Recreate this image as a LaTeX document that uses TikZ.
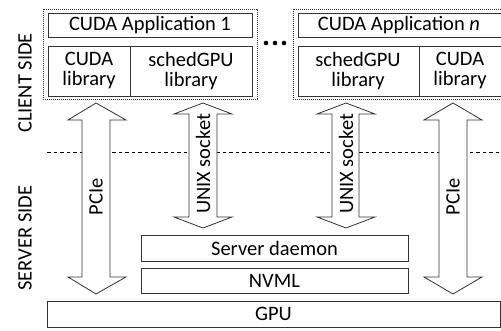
\documentclass[tikz,border=0pt]{standalone}
\usepackage{fontspec}
\setmainfont{Carlito}
\begin{document}
\begin{tikzpicture}[x=1pt,y=-1pt,
  box/.style={draw=black!80,line width=0.8pt,fill=white},
  lbl/.style={font=\fontsize{20.5}{20}\selectfont,inner sep=0pt,align=center},
  arr/.style={draw=black!80,line width=0.8pt,fill=white,line join=miter},
  grp/.style={draw=black!80,line width=0.8pt,dash pattern=on 0.8pt off 1.2pt}]
\useasboundingbox (0,0) rectangle (501,331);
% group boxes
\draw[grp] (43,9) rectangle (257,99);
\draw[grp] (293,9) rectangle (503,99);
% app 1
\draw[box] (48,13) rectangle (252,37);
\node[lbl] (app1) at (150,25) {CUDA Application 1};
\draw[box] (48,46) rectangle (130,96);
\draw[box] (130,46) rectangle (252,96);
\node[lbl] (cl1) at (89,71) {CUDA\\library};
\node[lbl] (sl1) at (191,71) {schedGPU\\library};
% dots
\foreach \i in {266,275,284} \fill[black] (\i,43) circle (2.3pt);
\coordinate (dots) at (275,43);
% app n
\draw[box] (298,13) rectangle (503,37);
\node[lbl] (appn) at (399,25) {CUDA Application \textit{n}};
\draw[box] (298,46) rectangle (419,96);
\draw[box] (419,46) rectangle (503,96);
\node[lbl] (sln) at (358,71) {schedGPU\\library};
\node[lbl] (cln) at (460,71) {CUDA\\library};
% dashed separator
\draw[line width=0.8pt,dash pattern=on 3.5pt off 3pt] (47,152) -- (501,152);
% side labels
\node[lbl,rotate=90] (client) at (25,83) {CLIENT SIDE};
\node[lbl,rotate=90] (server) at (25,238) {SERVER SIDE};
% PCIe arrows
\draw[arr] (96,103) -- (126,120) -- (110,120) -- (110,277) -- (126,277) -- (96,294)
  -- (68,277) -- (82,277) -- (82,120) -- (68,120) -- cycle;
\draw[arr] (453,103) -- (482,120) -- (467,120) -- (467,277) -- (482,277) -- (453,294)
  -- (424,277) -- (439,277) -- (439,120) -- (424,120) -- cycle;
\node[lbl,rotate=90] (p1) at (96,197) {PCIe};
\node[lbl,rotate=90] (p2) at (453,197) {PCIe};
% UNIX socket arrows
\draw[arr] (203,103) -- (232,114) -- (217,114) -- (217,217) -- (232,217) -- (203,228)
  -- (174,217) -- (189,217) -- (189,114) -- (174,114) -- cycle;
\draw[arr] (346,103) -- (375,114) -- (359,114) -- (359,217) -- (375,217) -- (346,228)
  -- (317,217) -- (332,217) -- (332,114) -- (317,114) -- cycle;
\node[lbl,rotate=90] (u1) at (203,164) {UNIX socket};
\node[lbl,rotate=90] (u2) at (346,164) {UNIX socket};
% server boxes
\draw[box] (141,235) rectangle (408,261);
\node[lbl] (daemon) at (274.5,248) {Server daemon};
\draw[box] (141,268) rectangle (408,293);
\node[lbl] (nvml) at (274.5,280.5) {NVML};
\draw[box] (47,301) rectangle (500,327);
\node[lbl] (gpu) at (273.5,314) {GPU};
\end{tikzpicture}
\end{document}
